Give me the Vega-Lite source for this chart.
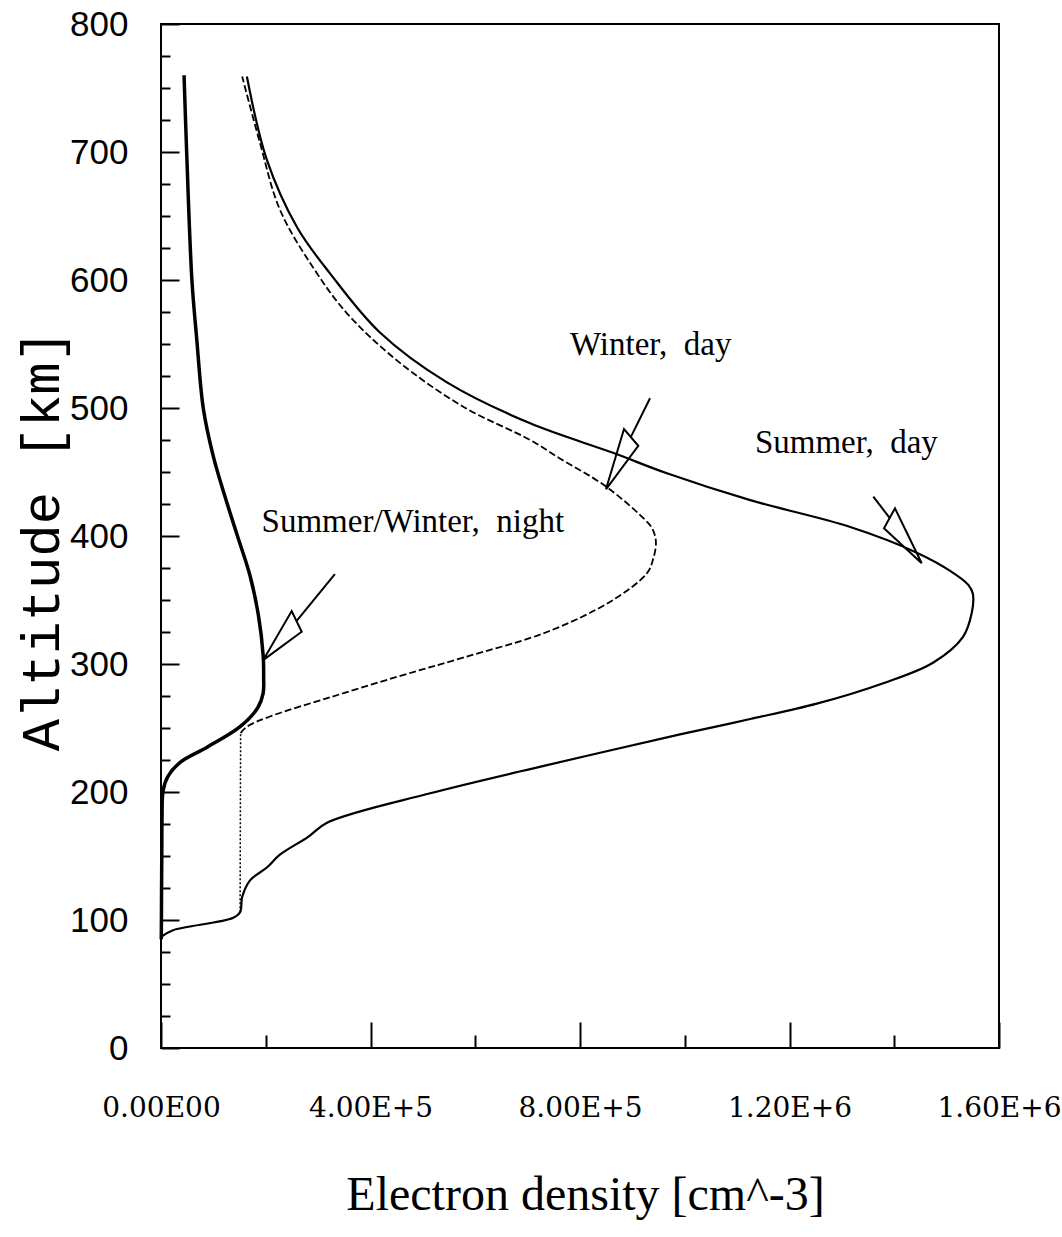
{
  "$schema": "https://vega.github.io/schema/vega-lite/v6.json",
  "width": 838,
  "height": 1024,
  "autosize": {"type": "none"},
  "padding": {"left": 161, "top": 24, "right": 63, "bottom": 189},
  "background": "white",
  "config": {"view": {"stroke": "black", "strokeWidth": 2}, "axis": {"grid": false}},
  "datasets": {
    "curves": [
      {"series": "night", "i": 0, "x": 500, "alt": 85},
      {"series": "night", "i": 1, "x": 800, "alt": 100},
      {"series": "night", "i": 2, "x": 1000, "alt": 120},
      {"series": "night", "i": 3, "x": 1500, "alt": 150},
      {"series": "night", "i": 4, "x": 2000, "alt": 180},
      {"series": "night", "i": 5, "x": 4000, "alt": 201},
      {"series": "night", "i": 6, "x": 13000, "alt": 212},
      {"series": "night", "i": 7, "x": 36000, "alt": 223},
      {"series": "night", "i": 8, "x": 88000, "alt": 235},
      {"series": "night", "i": 9, "x": 151000, "alt": 251},
      {"series": "night", "i": 10, "x": 185000, "alt": 266},
      {"series": "night", "i": 11, "x": 195000, "alt": 277},
      {"series": "night", "i": 12, "x": 196000, "alt": 290},
      {"series": "night", "i": 13, "x": 195000, "alt": 307},
      {"series": "night", "i": 14, "x": 186000, "alt": 338},
      {"series": "night", "i": 15, "x": 170000, "alt": 369},
      {"series": "night", "i": 16, "x": 146000, "alt": 400},
      {"series": "night", "i": 17, "x": 122000, "alt": 431},
      {"series": "night", "i": 18, "x": 100000, "alt": 462},
      {"series": "night", "i": 19, "x": 81000, "alt": 499},
      {"series": "night", "i": 20, "x": 68000, "alt": 555},
      {"series": "night", "i": 21, "x": 59000, "alt": 600},
      {"series": "night", "i": 22, "x": 49000, "alt": 700},
      {"series": "night", "i": 23, "x": 44000, "alt": 760},

      {"series": "summer", "i": 0, "x": 1000, "alt": 87},
      {"series": "summer", "i": 1, "x": 23000, "alt": 92},
      {"series": "summer", "i": 2, "x": 137000, "alt": 101.5},
      {"series": "summer", "i": 3, "x": 151000, "alt": 106},
      {"series": "summer", "i": 4, "x": 155000, "alt": 118},
      {"series": "summer", "i": 5, "x": 170000, "alt": 131},
      {"series": "summer", "i": 6, "x": 202000, "alt": 141},
      {"series": "summer", "i": 7, "x": 227000, "alt": 151},
      {"series": "summer", "i": 8, "x": 281000, "alt": 165},
      {"series": "summer", "i": 9, "x": 317000, "alt": 176},
      {"series": "summer", "i": 10, "x": 514000, "alt": 199},
      {"series": "summer", "i": 11, "x": 737000, "alt": 221},
      {"series": "summer", "i": 12, "x": 991000, "alt": 245},
      {"series": "summer", "i": 14, "x": 1125000, "alt": 257},
      {"series": "summer", "i": 15, "x": 1252000, "alt": 269},
      {"series": "summer", "i": 16, "x": 1379000, "alt": 285},
      {"series": "summer", "i": 17, "x": 1474000, "alt": 301},
      {"series": "summer", "i": 18, "x": 1531000, "alt": 321},
      {"series": "summer", "i": 19, "x": 1548000, "alt": 340},
      {"series": "summer", "i": 20, "x": 1550000, "alt": 355},
      {"series": "summer", "i": 21, "x": 1541000, "alt": 362},
      {"series": "summer", "i": 22, "x": 1506000, "alt": 373},
      {"series": "summer", "i": 23, "x": 1443000, "alt": 387},
      {"series": "summer", "i": 24, "x": 1316000, "alt": 407},
      {"series": "summer", "i": 25, "x": 1125000, "alt": 428},
      {"series": "summer", "i": 26, "x": 966000, "alt": 449},
      {"series": "summer", "i": 27, "x": 863000, "alt": 465},
      {"series": "summer", "i": 28, "x": 705000, "alt": 488},
      {"series": "summer", "i": 29, "x": 546000, "alt": 520},
      {"series": "summer", "i": 30, "x": 418000, "alt": 559},
      {"series": "summer", "i": 31, "x": 323000, "alt": 605},
      {"series": "summer", "i": 32, "x": 260000, "alt": 641},
      {"series": "summer", "i": 33, "x": 202000, "alt": 694},
      {"series": "summer", "i": 34, "x": 164000, "alt": 759},

      {"series": "winter_v", "i": 0, "x": 151000, "alt": 106},
      {"series": "winter_v", "i": 1, "x": 152000, "alt": 246},

      {"series": "winter", "i": 0, "x": 152000, "alt": 246},
      {"series": "winter", "i": 1, "x": 164000, "alt": 251},
      {"series": "winter", "i": 2, "x": 208000, "alt": 259},
      {"series": "winter", "i": 3, "x": 323000, "alt": 274},
      {"series": "winter", "i": 4, "x": 451000, "alt": 290},
      {"series": "winter", "i": 5, "x": 577000, "alt": 305},
      {"series": "winter", "i": 6, "x": 737000, "alt": 325},
      {"series": "winter", "i": 7, "x": 863000, "alt": 350},
      {"series": "winter", "i": 8, "x": 928000, "alt": 371},
      {"series": "winter", "i": 9, "x": 939000, "alt": 381},
      {"series": "winter", "i": 10, "x": 945000, "alt": 395},
      {"series": "winter", "i": 11, "x": 939000, "alt": 405},
      {"series": "winter", "i": 12, "x": 928000, "alt": 411},
      {"series": "winter", "i": 13, "x": 852000, "alt": 438},
      {"series": "winter", "i": 14, "x": 760000, "alt": 461},
      {"series": "winter", "i": 15, "x": 705000, "alt": 475},
      {"series": "winter", "i": 16, "x": 577000, "alt": 501},
      {"series": "winter", "i": 17, "x": 451000, "alt": 537},
      {"series": "winter", "i": 18, "x": 355000, "alt": 574},
      {"series": "winter", "i": 19, "x": 290000, "alt": 610},
      {"series": "winter", "i": 20, "x": 227000, "alt": 655},
      {"series": "winter", "i": 21, "x": 189000, "alt": 707},
      {"series": "winter", "i": 22, "x": 155000, "alt": 759}
    ],
    "arrows": [
      {"key": "night_head", "i": 0, "x": 195000, "alt": 303},
      {"key": "night_head", "i": 1, "x": 249500, "alt": 341.4},
      {"key": "night_head", "i": 2, "x": 268600, "alt": 325.2},
      {"key": "night_head", "i": 3, "x": 195000, "alt": 303},
      {"key": "night_shaft", "i": 0, "x": 259000, "alt": 333.6},
      {"key": "night_shaft", "i": 1, "x": 332000, "alt": 370.3},
      {"key": "winter_head", "i": 0, "x": 849600, "alt": 436.5},
      {"key": "winter_head", "i": 1, "x": 884000, "alt": 483.6},
      {"key": "winter_head", "i": 2, "x": 911300, "alt": 470.5},
      {"key": "winter_head", "i": 3, "x": 849600, "alt": 436.5},
      {"key": "winter_shaft", "i": 0, "x": 897400, "alt": 477.6},
      {"key": "winter_shaft", "i": 1, "x": 933700, "alt": 507.6},
      {"key": "summer_head", "i": 0, "x": 1452400, "alt": 378.7},
      {"key": "summer_head", "i": 1, "x": 1401400, "alt": 421.6},
      {"key": "summer_head", "i": 2, "x": 1380400, "alt": 406},
      {"key": "summer_head", "i": 3, "x": 1452400, "alt": 378.7},
      {"key": "summer_shaft", "i": 0, "x": 1391900, "alt": 413.8},
      {"key": "summer_shaft", "i": 1, "x": 1360000, "alt": 430.7}
    ],
    "labels": [
      {"text": "Winter, \u00a0day", "x": 781000, "alt": 541.4},
      {"text": "Summer, \u00a0day", "x": 1134000, "alt": 464.8},
      {"text": "Summer/Winter, \u00a0night", "x": 192000, "alt": 403.4}
    ]
  },
  "layer": [
    {
      "data": {"name": "curves"},
      "transform": [{"filter": "datum.series == 'night'"}],
      "mark": {"type": "line", "color": "black", "strokeWidth": 3.5, "interpolate": "catmull-rom"},
      "encoding": {
        "x": {"field": "x", "type": "quantitative", "scale": {"domain": [0, 1600000], "nice": false, "zero": false},
          "axis": {"orient": "bottom", "values": [0, 400000, 800000, 1200000, 1600000], "ticks": false, "domain": false,
            "labelPadding": 46, "labelFont": "DejaVu Serif", "labelFontSize": 28, "labelColor": "black", "labelFlush": false, "labelOverlap": false,
            "labelExpr": "datum.value == 0 ? '0.00E00' : datum.value == 400000 ? '4.00E+5' : datum.value == 800000 ? '8.00E+5' : datum.value == 1200000 ? '1.20E+6' : '1.60E+6'",
            "title": "Electron density [cm^-3]", "titleFont": "Liberation Serif", "titleFontSize": 48, "titleFontWeight": "normal", "titleColor": "black",
            "titleX": 424, "titleY": 147, "titleAlign": "center", "titleBaseline": "middle"}},
        "y": {"field": "alt", "type": "quantitative", "scale": {"domain": [0, 800], "nice": false},
          "axis": {"orient": "left", "values": [0, 100, 200, 300, 400, 500, 600, 700, 800], "ticks": false, "domain": false,
            "labelPadding": 33, "labelFont": "Liberation Sans", "labelFontSize": 35, "labelColor": "black", "labelFlush": false, "labelOverlap": false,
            "title": "Altitude [km]", "titleFont": "Liberation Mono", "titleFontSize": 54, "titleFontWeight": "normal", "titleColor": "black",
            "titleAngle": -90, "titleX": -119, "titleY": 516, "titleAlign": "center", "titleBaseline": "middle"}},
        "order": {"field": "i", "type": "quantitative"}
      }
    },
    {
      "data": {"name": "curves"},
      "transform": [{"filter": "datum.series == 'summer'"}],
      "mark": {"type": "line", "color": "black", "strokeWidth": 2.2, "interpolate": "catmull-rom"},
      "encoding": {
        "x": {"field": "x", "type": "quantitative", "scale": {"domain": [0, 1600000], "nice": false, "zero": false},
          "axis": {"orient": "bottom", "values": [0, 400000, 800000, 1200000, 1600000], "ticks": true, "tickSize": -26, "tickWidth": 2, "tickColor": "black",
            "labels": false, "domain": false, "title": null}},
        "y": {"field": "alt", "type": "quantitative", "scale": {"domain": [0, 800], "nice": false},
          "axis": {"orient": "left", "values": [0, 100, 200, 300, 400, 500, 600, 700, 800], "ticks": true, "tickSize": -18, "tickWidth": 2, "tickColor": "black",
            "labels": false, "domain": false, "title": null}},
        "order": {"field": "i", "type": "quantitative"}
      }
    },
    {
      "data": {"name": "curves"},
      "transform": [{"filter": "datum.series == 'winter'"}],
      "mark": {"type": "line", "color": "black", "strokeWidth": 1.8, "strokeDash": [7, 3], "interpolate": "catmull-rom"},
      "encoding": {
        "x": {"field": "x", "type": "quantitative", "scale": {"domain": [0, 1600000], "nice": false, "zero": false},
          "axis": {"orient": "bottom", "values": [200000, 600000, 1000000, 1400000], "ticks": true, "tickSize": -13, "tickWidth": 2, "tickColor": "black",
            "labels": false, "domain": false, "title": null}},
        "y": {"field": "alt", "type": "quantitative", "scale": {"domain": [0, 800], "nice": false},
          "axis": {"orient": "left", "values": [25, 50, 75, 125, 150, 175, 225, 250, 275, 325, 350, 375, 425, 450, 475, 525, 550, 575, 625, 650, 675, 725, 750, 775],
            "ticks": true, "tickSize": -9, "tickWidth": 2, "tickColor": "black", "labels": false, "domain": false, "title": null}},
        "order": {"field": "i", "type": "quantitative"}
      }
    },
    {
      "data": {"name": "curves"},
      "transform": [{"filter": "datum.series == 'winter_v'"}],
      "mark": {"type": "line", "color": "black", "strokeWidth": 1.5, "strokeDash": [2, 2]},
      "encoding": {
        "x": {"field": "x", "type": "quantitative", "scale": {"domain": [0, 1600000], "nice": false, "zero": false}, "axis": null},
        "y": {"field": "alt", "type": "quantitative", "scale": {"domain": [0, 800], "nice": false}, "axis": null},
        "order": {"field": "i", "type": "quantitative"}
      }
    },
    {
      "data": {"name": "arrows"},
      "mark": {"type": "line", "color": "black", "strokeWidth": 2},
      "encoding": {
        "x": {"field": "x", "type": "quantitative", "scale": {"domain": [0, 1600000], "nice": false, "zero": false}, "axis": null},
        "y": {"field": "alt", "type": "quantitative", "scale": {"domain": [0, 800], "nice": false}, "axis": null},
        "detail": {"field": "key", "type": "nominal"},
        "order": {"field": "i", "type": "quantitative"}
      }
    },
    {
      "data": {"name": "labels"},
      "mark": {"type": "text", "align": "left", "baseline": "alphabetic", "font": "Liberation Serif", "fontSize": 33, "color": "black"},
      "encoding": {
        "x": {"field": "x", "type": "quantitative", "scale": {"domain": [0, 1600000], "nice": false, "zero": false}, "axis": null},
        "y": {"field": "alt", "type": "quantitative", "scale": {"domain": [0, 800], "nice": false}, "axis": null},
        "text": {"field": "text", "type": "nominal"}
      }
    }
  ],
  "resolve": {"axis": {"x": "independent", "y": "independent"}}
}
